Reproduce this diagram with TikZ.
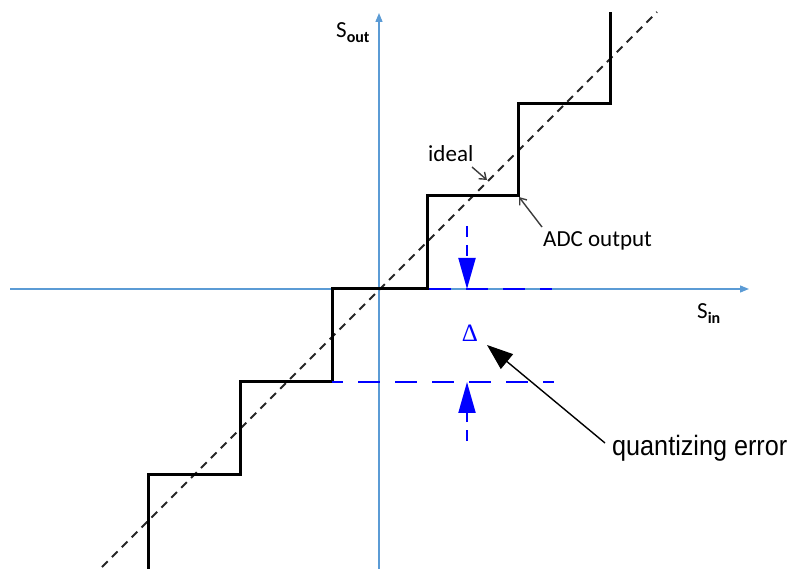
\documentclass[tikz,border=0pt]{standalone}
\usepackage{fontspec}
\setmainfont{Carlito}
\newfontfamily\qfont[FakeStretch=0.9]{Liberation Sans}
\newfontfamily\dfont{Liberation Serif}
\usetikzlibrary{arrows.meta}
\definecolor{axisblue}{RGB}{91,155,213}
\definecolor{leadgray}{RGB}{60,60,60}
\begin{document}
\begin{tikzpicture}[x=1pt,y=-1pt,
  axisline/.style={draw=axisblue,line width=1.3pt,-{Triangle[length=9pt,width=7pt]}},
  idealline/.style={draw=black!85,line width=1.9pt,dash pattern=on 8pt off 6pt},
  stair/.style={draw=black,line width=3pt,line join=miter},
  qdash/.style={draw=blue,line width=2pt,dash pattern=on 22pt off 15pt},
  qarrow/.style={draw=blue,line width=2pt,dash pattern=on 11pt off 8pt,-{Triangle[length=31pt,width=17pt]}},
  lead/.style={draw=leadgray,line width=1.4pt,-{Straight Barb[length=6pt,width=9pt]}},
  lbl/.style={inner sep=0pt,font=\fontsize{23}{25}\selectfont},
]
\useasboundingbox (0,0) rectangle (801,569);
% axes
\coordinate (xl) at (10,289);
\coordinate (xr) at (749,289);
\coordinate (yb) at (379,569);
\coordinate (yt) at (379,13);
\draw[axisline] (xl) -- (xr);
\draw[axisline] (yb) -- (yt);
% ideal line
\coordinate (d1) at (102,567);
\coordinate (d2) at (657,12);
\draw[idealline] (d1) -- (d2);
% staircase
\coordinate (s0) at (148,569);
\coordinate (s1) at (240,474);
\coordinate (s2) at (332,382);
\coordinate (s3) at (427,289);
\coordinate (s4) at (518,196);
\coordinate (s5) at (610,104);
\coordinate (s6) at (610,12);
\draw[stair] (s0) |- (s1) |- (s2) |- (s3) |- (s4) |- (s5) -- (s6);
% quantization lines
\coordinate (q1e) at (552,289);
\coordinate (q2s) at (332,382);
\coordinate (q2e) at (554,382);
\draw[qdash,dash phase=-2pt] (s3) -- (q1e);
\draw[qdash,dash phase=11pt] (q2s) -- (q2e);
\coordinate (a1s) at (467,226);
\coordinate (a1e) at (467,289);
\coordinate (a2s) at (467,441);
\coordinate (a2e) at (467,382);
\draw[qarrow] (a1s) -- (a1e);
\draw[qarrow] (a2s) -- (a2e);
% labels
\node[inner sep=0pt,text=blue,font=\dfont\fontsize{25}{27}\selectfont] (delta) at (470,333) {Δ};
\node[lbl,anchor=base west] (ideal) at (428,162) {ideal};
\node[lbl,anchor=base west] (adc) at (543,247) {ADC output};
\node[lbl,anchor=base west] (sout) at (336,38) {S\raisebox{-5pt}{\fontsize{16}{16}\selectfont\bfseries out}};
\node[lbl,anchor=base west] (sin) at (697,319) {S\raisebox{-5pt}{\fontsize{16}{16}\selectfont\bfseries in}};
\node[inner sep=0pt,anchor=base west,font=\qfont\fontsize{28}{30}\selectfont] (qe) at (612,455) {quantizing error};
% leaders
\coordinate (it) at (472,167);
\coordinate (ih) at (487,180);
\draw[lead] (it) -- (ih);
\coordinate (at) at (542,227);
\coordinate (ah) at (519,197);
\draw[lead] (at) -- (ah);
\coordinate (qtail) at (605,443);
\coordinate (qtip) at (487,345);
\draw[draw=black,line width=1.4pt,-{Triangle[length=26pt,width=19pt]}] (qtail) -- (qtip);
\end{tikzpicture}
\end{document}
